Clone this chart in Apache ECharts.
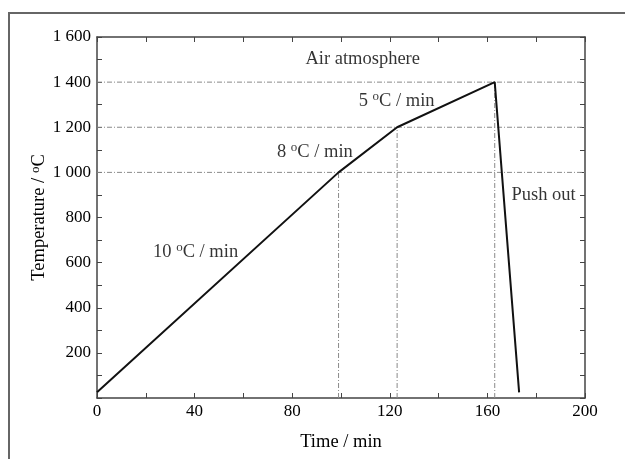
<!DOCTYPE html>
<html>
<head>
<meta charset="utf-8">
<script src="https://cdn.jsdelivr.net/npm/echarts@6/dist/echarts.min.js"></script>
<style>
html,body{margin:0;padding:0;background:#fff;}
#c{width:625px;height:459px;}
</style>
</head>
<body>
<div id="c"></div>
<script>
// ---- data ----
const timeMin = [0, 99, 123, 163, 173];
const tempC = [25, 1000, 1200, 1400, 25];
const guideTimes = [99, 123, 163];
const guideTemps = [1000, 1200, 1400];
const xTicks = [0, 40, 80, 120, 160, 200];
const yTicks = [200, 400, 600, 800, 1000, 1200, 1400, 1600];
const annotText = ['10 |C / min', '8 |C / min', '5 |C / min', 'Air atmosphere', 'Push out'];
const annotTime = [40.4, 89.3, 122.8, 108.9, 183];
const annotTemp = [648, 1090, 1316, 1503, 900];

const FONT = 'Liberation Serif';
const txt = '#000';
const axisCol = '#444';
const guideCol = '#8a8a8a';

function fmtY(v){
  if (yTicks.indexOf(v) < 0) return '';
  const s = String(v);
  return s.length > 3 ? s.slice(0, s.length-3) + ' ' + s.slice(-3) : s;
}
function fmtX(v){ return xTicks.indexOf(v) >= 0 ? String(v) : ''; }

const series = [];
// guide lines (dash-dot)
guideTemps.forEach(function(t, i){
  series.push({
    type: 'line', data: [[0, t], [200, t]], symbol: 'none', silent: true, z: 1,
    lineStyle: {color: guideCol, width: 1, type: [5, 2, 1, 2]}
  });
  series.push({
    type: 'line', data: [[guideTimes[i], 0], [guideTimes[i], t]], symbol: 'none', silent: true, z: 1,
    lineStyle: {color: guideCol, width: 1, type: [5, 2, 1, 2]}
  });
});
// main curve
series.push({
  type: 'line', data: timeMin.map(function(x, i){ return [x, tempC[i]]; }),
  symbol: 'none', z: 5,
  lineStyle: {color: '#111', width: 2}
});
// annotations
series.push({
  type: 'scatter', symbolSize: 0, silent: true, z: 6,
  data: annotText.map(function(s, i){ return {value: [annotTime[i], annotTemp[i]], name: s}; }),
  label: {
    show: true, position: 'inside',
    formatter: function(p){
      const parts = p.name.split('|');
      if (parts.length === 1) return '{t|' + parts[0] + '}';
      return '{t|' + parts[0] + '}{s|o}{t|' + parts[1] + '}';
    },
    rich: {
      t: {fontFamily: FONT, fontSize: 18.5, color: txt},
      s: {fontFamily: FONT, fontSize: 13, color: txt, verticalAlign: 'top', padding: [0, 0, 8, 0]}
    }
  }
});

const axisCommon = {
  axisLine: {show: true, onZero: false, lineStyle: {color: axisCol, width: 1.5}},
  axisTick: {show: true, inside: true, length: 5, lineStyle: {color: axisCol, width: 1}},
  splitLine: {show: false}
};

const option = {
  animation: false,
  backgroundColor: '#fff',
  grid: {left: 97, right: 40, top: 37, bottom: 61},
  xAxis: [
    Object.assign({
      type: 'value', min: 0, max: 200, interval: 20, position: 'bottom',
      name: 'Time / min', nameLocation: 'middle', nameGap: 35, nameMoveOverlap: false,
      nameTextStyle: {fontFamily: FONT, fontSize: 18.5, color: txt},
      axisLabel: {formatter: fmtX, fontFamily: FONT, fontSize: 17, color: txt, margin: 5}
    }, axisCommon),
    Object.assign({
      type: 'value', min: 0, max: 200, interval: 20, position: 'top',
      axisLabel: {show: false}
    }, axisCommon)
  ],
  yAxis: [
    Object.assign({
      type: 'value', min: 0, max: 1600, interval: 100, position: 'left',
      name: '{t|Temperature / }{s|o}{t|C}', nameLocation: 'middle', nameGap: 47, nameMoveOverlap: false,
      nameTextStyle: {
        rich: {
          t: {fontFamily: FONT, fontSize: 18.5, color: txt},
          s: {fontFamily: FONT, fontSize: 13, color: txt, verticalAlign: 'top', padding: [0, 0, 8, 0]}
        }
      },
      axisLabel: {formatter: fmtY, fontFamily: FONT, fontSize: 17, color: txt, margin: 6}
    }, axisCommon),
    Object.assign({
      type: 'value', min: 0, max: 1600, interval: 100, position: 'right',
      axisLabel: {show: false}
    }, axisCommon)
  ],
  series: series,
  graphic: [{
    type: 'polyline', silent: true,
    shape: {points: [[9, 459], [9, 13], [625, 13]]},
    style: {stroke: '#666', lineWidth: 2, fill: null}
  }]
};

const chart = echarts.init(document.getElementById('c'), null, {renderer: 'canvas'});
chart.setOption(option);
</script>
</body>
</html>
